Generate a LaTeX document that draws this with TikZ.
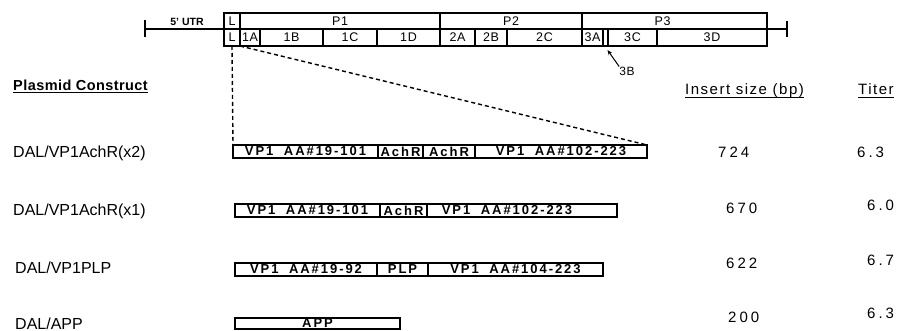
\documentclass[tikz,border=0pt]{standalone}
\usepackage{fontspec}
\setmainfont{Liberation Sans}
\newfontfamily\barfont[LetterSpace=15]{Liberation Sans}
\newfontfamily\numfont[LetterSpace=20]{Liberation Sans}
\newfontfamily\hdfont[LetterSpace=10]{Liberation Sans}
\newfontfamily\plfont[LetterSpace=3]{Liberation Sans}
\newfontfamily\gfont[LetterSpace=5]{Liberation Sans}
\usetikzlibrary{arrows.meta,calc}
\newcommand{\sg}[7]{\node[#1, minimum width={#4-#3}, minimum height={#6-#5}] (#2) at ({(#3+#4)/2},{(#5+#6)/2}) {#7};}
\newcommand{\wsp}{\hspace{5pt}}
\begin{document}
\begin{tikzpicture}[x=1pt,y=-1pt,
  gseg/.style={draw, line width=1.1pt, inner sep=0, outer sep=0, font=\gfont\fontsize{12.5}{13}\selectfont},
  cseg/.style={draw, line width=1.7pt, inner sep=0, outer sep=0, font=\barfont\bfseries\fontsize{13}{13}\selectfont},
  lab/.style={anchor=base west, inner sep=0, font=\fontsize{16}{18}\selectfont},
  num/.style={anchor=base west, inner sep=0, font=\numfont\fontsize{15}{18}\selectfont},
  hd/.style={anchor=base west, inner sep=0},
  uline/.style={line width=1pt},
  dline/.style={line width=1.4pt, dash pattern=on 4pt off 3pt},
  gline/.style={line width=1.3pt},
]
\useasboundingbox (0,0) rectangle (904,331);
% genome map
\sg{gseg}{gL1}{224}{240}{13}{29}{L}
\sg{gseg}{gP1}{240}{440}{13}{29}{P1}
\sg{gseg}{gP2}{440}{582}{13}{29}{P2}
\sg{gseg}{gP3}{582}{767}{13}{29}{\hspace*{-24pt}P3}
\sg{gseg}{gL2}{224}{240}{29}{46}{L}
\sg{gseg}{g1A}{240}{260}{29}{46}{1A}
\sg{gseg}{g1B}{260}{323}{29}{46}{1B}
\sg{gseg}{g1C}{323}{377}{29}{46}{1C}
\sg{gseg}{g1D}{377}{440}{29}{46}{1D}
\sg{gseg}{g2A}{440}{475}{29}{46}{2A}
\sg{gseg}{g2B}{475}{507}{29}{46}{2B}
\sg{gseg}{g2C}{507}{582}{29}{46}{2C}
\sg{gseg}{g3A}{582}{603}{29}{46}{3A}
\sg{gseg}{g3B}{603}{608}{29}{46}{}
\sg{gseg}{g3C}{608}{657}{29}{46}{3C}
\sg{gseg}{g3D}{657}{767}{29}{46}{3D}
\coordinate (utrL) at (145,29);
\coordinate (utrR) at (787,29);
\draw[gline] (utrL) -- (gL1.south west);
\draw[gline] (gP3.south east) -- (utrR);
\draw[gline] (145,20) -- (145,37);
\draw[gline] (787,21) -- (787,37);
\node[font=\bfseries\fontsize{10.5}{11}\selectfont, inner sep=0] (utr) at (187,22) {5' UTR};
\node[font=\gfont\fontsize{12}{13}\selectfont, inner sep=0] (t3B) at (627,71) {3B};
\draw[line width=1pt, -{Stealth[length=5pt,width=4pt]}] (t3B.north west) -- ([xshift=2pt,yshift=-4pt]g3B.south);
% headers
\node[hd, font=\plfont\bfseries\fontsize{14.5}{16}\selectfont] (hPl) at (13,91) {Plasmid Construct};
\node[hd, font=\hdfont\fontsize{15}{17}\selectfont] (hIn) at (685,95) {Insert size (bp)};
\node[hd, font=\hdfont\fontsize{15}{17}\selectfont] (hTi) at (858,95) {Titer};
\draw[uline] ([yshift=-2pt]hPl.base west) -- ([yshift=-2pt]hPl.base east);
\draw[uline] ([yshift=-3pt]hIn.base west) -- ([yshift=-3pt]hIn.base east);
\draw[uline] ([yshift=-3pt]hTi.base west) -- ([yshift=-3pt]hTi.base east);
% constructs
\sg{cseg}{b1a}{233}{378}{145}{158}{VP1\wsp{} AA\#19-101}
\sg{cseg}{b1b}{378}{423}{145}{158}{AchR}
\sg{cseg}{b1c}{423}{475}{145}{158}{AchR}
\sg{cseg}{b1d}{475}{647}{145}{158}{VP1\wsp{} AA\#102-223}
\sg{cseg}{b2a}{235}{380}{204}{217}{VP1\wsp{} AA\#19-101}
\sg{cseg}{b2b}{380}{427}{204}{217}{AchR}
\sg{cseg}{b2c}{427}{617}{204}{217}{\hspace*{-30pt}VP1\wsp{} AA\#102-223}
\sg{cseg}{b3a}{235}{377}{263}{276}{VP1\wsp{} AA\#19-92}
\sg{cseg}{b3b}{377}{428}{263}{276}{PLP}
\sg{cseg}{b3c}{428}{603}{263}{276}{VP1\wsp{} AA\#104-223}
\sg{cseg}{b4}{235}{400}{318}{329}{APP}
% dashed zoom lines
\draw[dline] (gL2.south) -- (b1a.north west);
\draw[dline] (gL2.south east) -- (b1d.north east);
% labels
\node[lab] (l1) at (13,158) {DAL/VP1AchR(x2)};
\node[lab] (l2) at (13,215) {DAL/VP1AchR(x1)};
\node[lab] (l3) at (15,273) {DAL/VP1PLP};
\node[lab] (l4) at (15,329) {DAL/APP};
\node[num] (s1) at (718,158) {724};
\node[num] (s2) at (726,213) {670};
\node[num] (s3) at (726,268) {622};
\node[num] (s4) at (728,322) {200};
\node[num] (t1) at (857,158) {6.3};
\node[num] (t2) at (867,211) {6.0};
\node[num] (t3) at (867,265) {6.7};
\node[num] (t4) at (867,318) {6.3};
\end{tikzpicture}
\end{document}
